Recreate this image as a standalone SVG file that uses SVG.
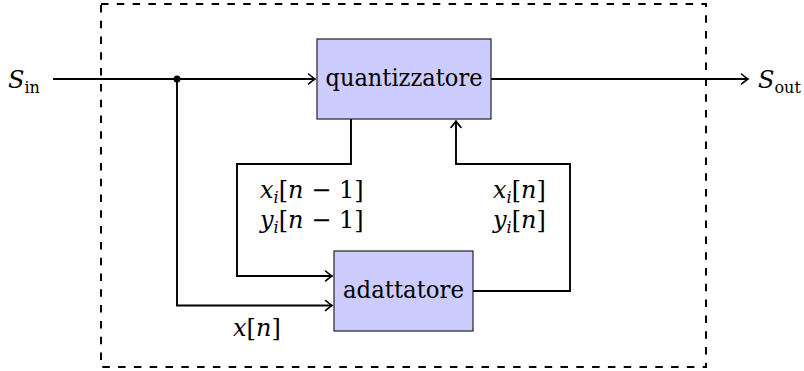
<svg xmlns="http://www.w3.org/2000/svg" width="804" height="371" viewBox="0 0 804 371">
  <style>
    .wire { fill: none; stroke: #000; stroke-width: 1.9; }
    .frame { fill: none; stroke: #000; stroke-width: 2; stroke-dasharray: 7.5 8.3; }
    .block { fill: #ccccff; stroke: #222; stroke-width: 1.2; }
    .lbl { font-family: 'DejaVu Serif', 'Liberation Serif', 'Times New Roman', serif; font-size: 24px; fill: #000; }
    .m { font-style: italic; }
    .sub { font-size: 16px; }
  </style>
  <defs>
    <marker id="to" viewBox="-8 -6 10 12" refX="0" refY="0" markerWidth="10" markerHeight="12" markerUnits="userSpaceOnUse" orient="auto">
      <path d="M-6.5,-5 Q-2,-1.2 0,0 Q-2,1.2 -6.5,5" fill="none" stroke="#000" stroke-width="1.6" stroke-linecap="round"/>
    </marker>
  </defs>

  <!-- dashed system boundary -->
  <rect x="101" y="4" width="605" height="363" class="frame"/>

  <g id="connectors">
    <path class="wire" d="M53,79 H315" marker-end="url(#to)"/>
    <path class="wire" d="M491,79 H748" marker-end="url(#to)"/>
    <path class="wire" d="M177,79 V305.5 H332" marker-end="url(#to)"/>
    <path class="wire" d="M351,119 V164 H237 V276 H332" marker-end="url(#to)"/>
    <path class="wire" d="M473,291 H570 V164 H456 V121" marker-end="url(#to)"/>
    <circle cx="177" cy="79" r="3.5" fill="#000"/>
  </g>

  <g id="quantizzatore">
    <rect class="block" x="317" y="39" width="174" height="80"/>
    <text class="lbl" x="404" y="86" text-anchor="middle" textLength="157" lengthAdjust="spacingAndGlyphs">quantizzatore</text>
  </g>

  <g id="adattatore">
    <rect class="block" x="334" y="251" width="139" height="80"/>
    <text class="lbl" x="403.5" y="298" text-anchor="middle" textLength="121" lengthAdjust="spacingAndGlyphs">adattatore</text>
  </g>

  <g id="labels">
    <text class="lbl" x="8" y="88"><tspan class="m">S</tspan><tspan class="sub" dy="5">in</tspan></text>
    <text class="lbl" x="758" y="88"><tspan class="m">S</tspan><tspan class="sub" dy="5">out</tspan></text>
    <text class="lbl" x="260" y="198"><tspan class="m">x</tspan><tspan class="sub m" dy="5">i</tspan><tspan dy="-5">[</tspan><tspan class="m">n</tspan> − 1]</text>
    <text class="lbl" x="260" y="228"><tspan class="m">y</tspan><tspan class="sub m" dy="5">i</tspan><tspan dy="-5">[</tspan><tspan class="m">n</tspan> − 1]</text>
    <text class="lbl" x="493" y="198"><tspan class="m">x</tspan><tspan class="sub m" dy="5">i</tspan><tspan dy="-5">[</tspan><tspan class="m">n</tspan>]</text>
    <text class="lbl" x="493" y="228"><tspan class="m">y</tspan><tspan class="sub m" dy="5">i</tspan><tspan dy="-5">[</tspan><tspan class="m">n</tspan>]</text>
    <text class="lbl" x="233" y="336"><tspan class="m">x</tspan>[<tspan class="m">n</tspan>]</text>
  </g>
</svg>
